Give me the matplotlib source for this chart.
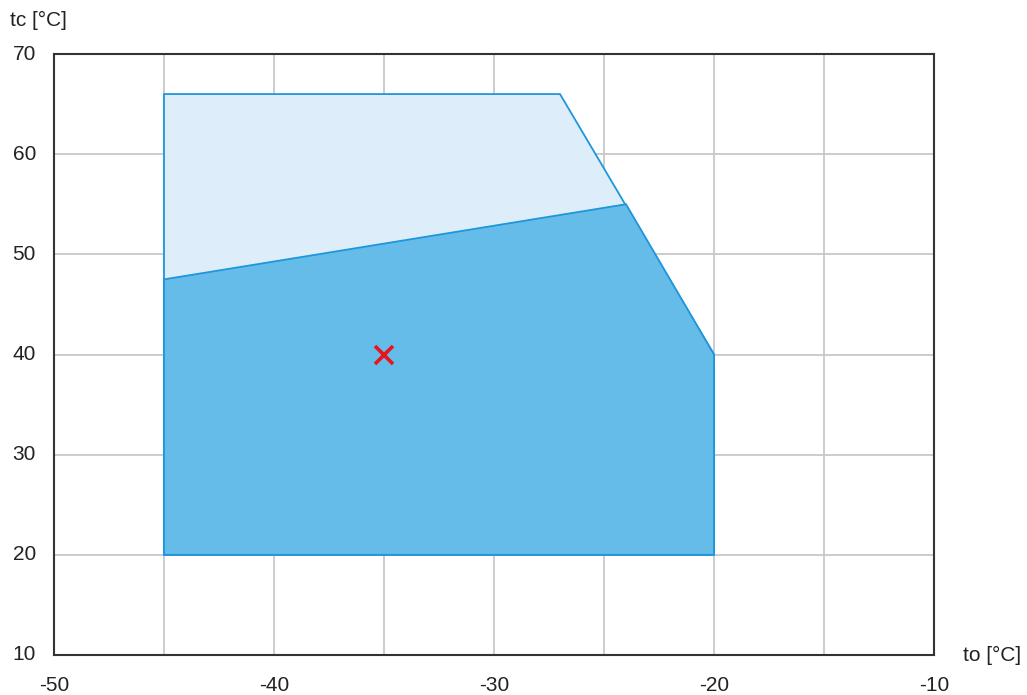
import matplotlib
matplotlib.use("Agg")
from matplotlib import pyplot as plt

# envelope outline (to, tc)
outer_to = [-45, -27, -20, -20, -45]
outer_tc = [66, 66, 40, 20, 20]
inner_to = [-45, -24, -20, -20, -45]
inner_tc = [47.5, 55, 40, 20, 20]
point_to = [-35]
point_tc = [40]

x_ticks = [-50, -40, -30, -20, -10]
y_ticks = [10, 20, 30, 40, 50, 60, 70]

plt.rcParams['font.family'] = ['Liberation Sans', 'DejaVu Sans']

fig = plt.figure(figsize=(10.27, 6.95), dpi=100)
ax = fig.add_axes([54 / 1027, 1 - 655 / 695, 880 / 1027, 601 / 695])

ax.fill(outer_to, outer_tc, facecolor="#ddeefa", edgecolor="#1e96dc", linewidth=1.3, zorder=2)
ax.fill(inner_to, inner_tc, facecolor="#66bce8", edgecolor="#1e96dc", linewidth=1.3, zorder=3)
ax.plot(point_to, point_tc, marker="x", linestyle="none", color="#e8141e",
        markersize=13, markeredgewidth=2.6, zorder=4)

ax.set_xlim(-50, -10)
ax.set_ylim(10, 70)
ax.set_xticks(range(-50, -9, 5), minor=False)
ax.set_xticklabels([str(t) if t in x_ticks else "" for t in range(-50, -9, 5)])
ax.set_yticks(y_ticks)
ax.grid(True, color="#c8c8c8", linewidth=1.3, zorder=1)
ax.set_axisbelow(True)
ax.tick_params(length=0, labelsize=15, colors="#222222")
ax.tick_params(axis="x", pad=15)
ax.tick_params(axis="y", pad=13)
for lab in ax.get_yticklabels():
    lab.set_verticalalignment("center")
for s in ax.spines.values():
    s.set_color("#333333")
    s.set_linewidth(1.5)

fig.text(10 / 1027, 1 - 20 / 695, "tc [°C]", fontsize=15, color="#222222", va="center", ha="left")
fig.text(963 / 1027, 1 - 655 / 695, "to [°C]", fontsize=15, color="#222222", va="center", ha="left")

fig.savefig("out.png", dpi=100)
